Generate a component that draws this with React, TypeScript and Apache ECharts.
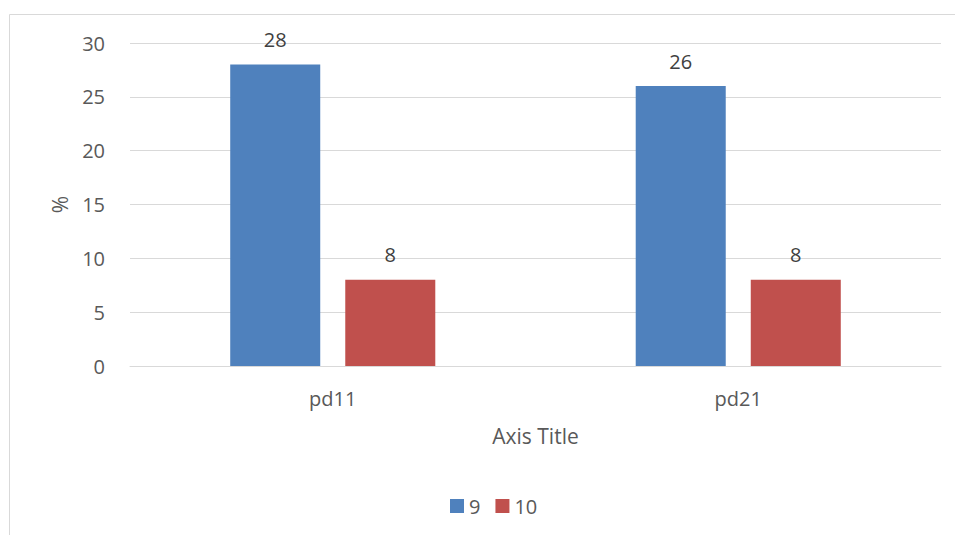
import React, { useEffect, useRef } from "react";
import * as echarts from "echarts";

const categories = ["pd11", "pd21"];
const seriesNames = ["9", "10"];
const values9 = [28, 26];
const values10 = [8, 8];
const colors = ["#4f81bd", "#c0504d"];

const FONT = "'Open Sans', 'Liberation Sans', sans-serif";
const TEXT = "#595959";
const GRID = "#d9d9d9";

export default function App() {
  const ref = useRef<HTMLDivElement>(null);

  useEffect(() => {
    if (!ref.current) return;
    const chart = echarts.init(ref.current, null, { renderer: "svg" });
    const label = {
      show: true,
      position: "top" as const,
      distance: 15,
      color: "#404040",
      fontFamily: FONT,
      fontSize: 20,
    };
    chart.setOption({
      animation: false,
      backgroundColor: "#ffffff",
      textStyle: { fontFamily: FONT },
      grid: { left: 130, right: 14, top: 43, bottom: 169, containLabel: false },
      legend: {
        top: 491,
        left: 445,
        itemWidth: 14,
        itemHeight: 14,
        itemGap: 15,
        icon: "rect",
        textStyle: { color: TEXT, fontSize: 20, fontFamily: FONT, padding: [0, 0, 0, 0] },
        data: seriesNames,
      },
      xAxis: {
        type: "category",
        data: categories,
        name: "Axis Title",
        nameLocation: "middle",
        nameGap: 59,
        nameTextStyle: { color: TEXT, fontSize: 21, fontFamily: FONT },
        axisLine: { show: true, lineStyle: { color: GRID, width: 1 } },
        axisTick: { show: false },
        axisLabel: { color: TEXT, fontSize: 20, fontFamily: FONT, margin: 22 },
      },
      yAxis: {
        type: "value",
        min: 0,
        max: 30,
        interval: 5,
        name: "%",
        nameLocation: "middle",
        nameGap: 60,
        nameRotate: 90,
        nameTextStyle: { color: TEXT, fontSize: 21, fontFamily: FONT },
        axisLine: { show: false },
        axisTick: { show: false },
        axisLabel: { color: TEXT, fontSize: 20, fontFamily: FONT, margin: 25 },
        splitLine: { lineStyle: { color: GRID, width: 1 } },
      },
      series: [
        {
          name: seriesNames[0],
          type: "bar",
          data: values9,
          barWidth: "22.2%",
          barGap: "27.8%",
          itemStyle: { color: colors[0] },
          label,
        },
        {
          name: seriesNames[1],
          type: "bar",
          data: values10,
          barWidth: "22.2%",
          barGap: "27.8%",
          itemStyle: { color: colors[1] },
          label,
        },
      ],
      graphic: [
        {
          type: "line",
          shape: { x1: 9.5, y1: 14.5, x2: 955, y2: 14.5 },
          style: { stroke: GRID, lineWidth: 1 },
        },
        {
          type: "line",
          shape: { x1: 9.5, y1: 14.5, x2: 9.5, y2: 535 },
          style: { stroke: GRID, lineWidth: 1 },
        },
      ],
    });
    return () => chart.dispose();
  }, []);

  return <div ref={ref} style={{ width: 955, height: 535, position: "fixed", left: 0, top: 0 }} />;
}
